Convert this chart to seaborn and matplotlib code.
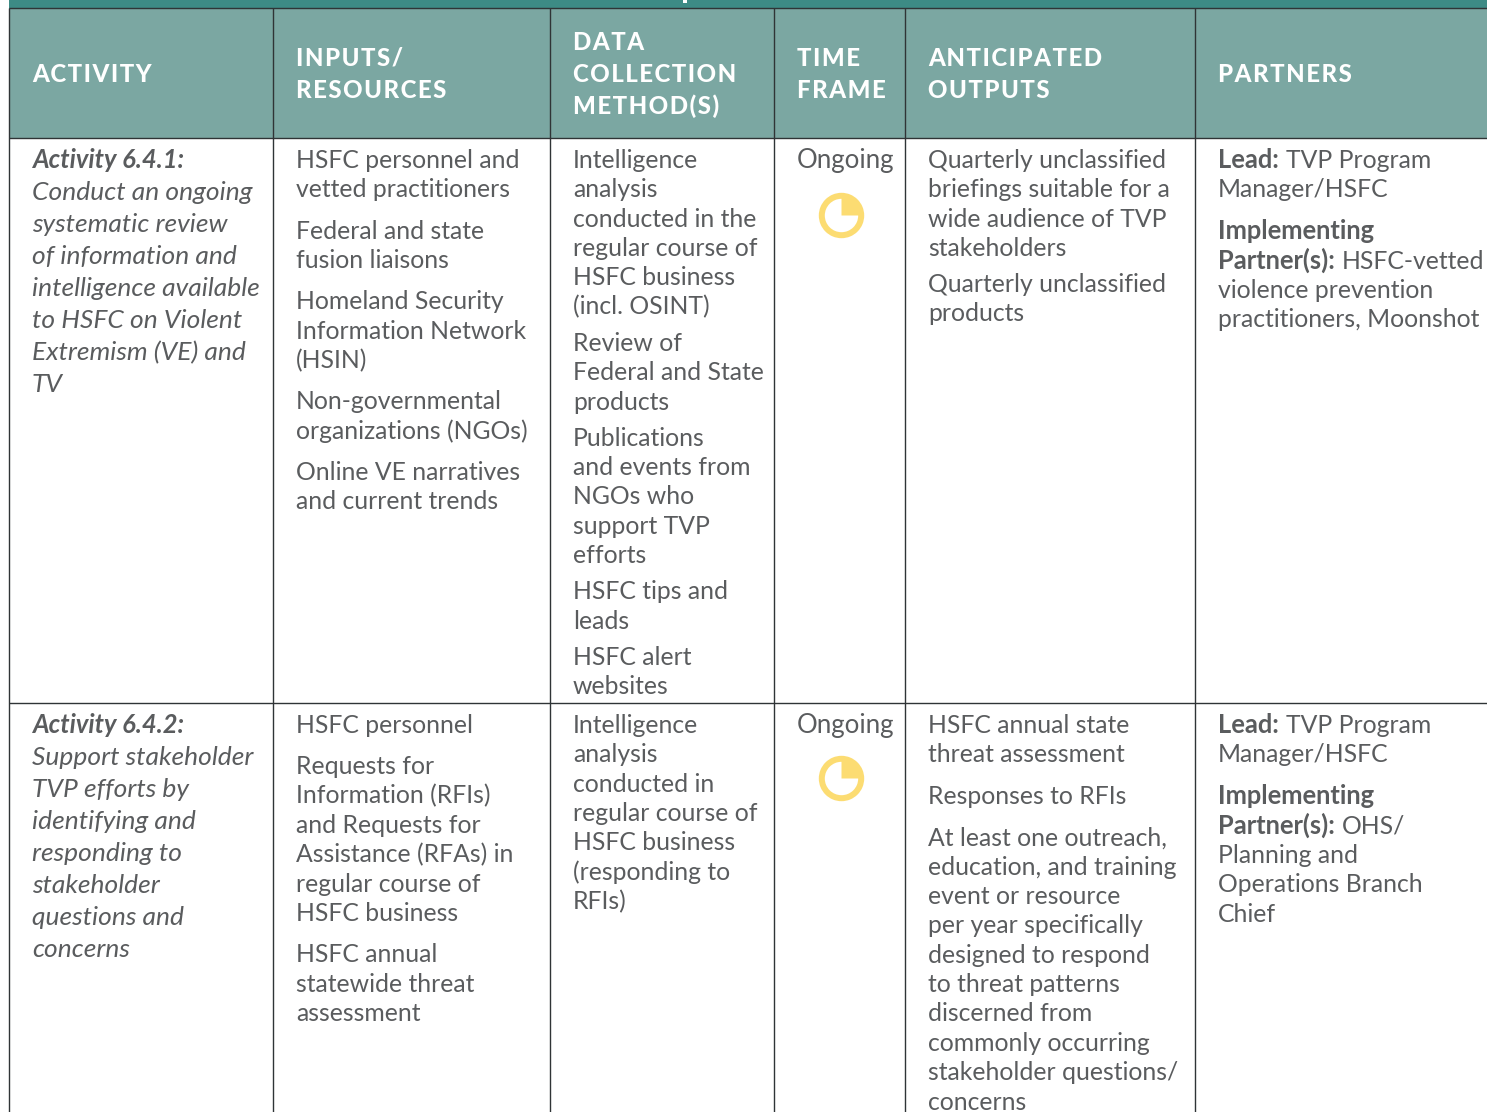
import matplotlib
matplotlib.use("Agg")
import matplotlib.pyplot as plt
from matplotlib.patches import Rectangle, Wedge
import seaborn as sns

headers = [
    ["ACTIVITY"],
    ["INPUTS/", "RESOURCES"],
    ["DATA", "COLLECTION", "METHOD(S)"],
    ["TIME", "FRAME"],
    ["ANTICIPATED", "OUTPUTS"],
    ["PARTNERS"],
]

activity_1 = ["Conduct an ongoing", "systematic review", "of information and", "intelligence available",
              "to HSFC on Violent", "Extremism (VE) and", "TV"]
activity_2 = ["Support stakeholder", "TVP efforts by", "identifying and", "responding to",
              "stakeholder", "questions and", "concerns"]

inputs_1 = [["HSFC personnel and", "vetted practitioners"],
            ["Federal and state", "fusion liaisons"],
            ["Homeland Security", "Information Network", "(HSIN)"],
            ["Non-governmental", "organizations (NGOs)"],
            ["Online VE narratives", "and current trends"]]
inputs_2 = [["HSFC personnel"],
            ["Requests for", "Information (RFIs)", "and Requests for", "Assistance (RFAs) in",
             "regular course of", "HSFC business"],
            ["HSFC annual", "statewide threat", "assessment"]]

methods_1 = [["Intelligence", "analysis", "conducted in the", "regular course of", "HSFC business", "(incl. OSINT)"],
             ["Review of", "Federal and State", "products"],
             ["Publications", "and events from", "NGOs who", "support TVP", "efforts"],
             ["HSFC tips and", "leads"],
             ["HSFC alert", "websites"]]
methods_2 = [["Intelligence", "analysis", "conducted in", "regular course of", "HSFC business",
              "(responding to", "RFIs)"]]

outputs_1 = [["Quarterly unclassified", "briefings suitable for a", "wide audience of TVP", "stakeholders"],
             ["Quarterly unclassified", "products"]]
outputs_2 = [["HSFC annual state", "threat assessment"],
             ["Responses to RFIs"],
             ["At least one outreach,", "education, and training", "event or resource",
              "per year specifically", "designed to respond", "to threat patterns",
              "discerned from", "commonly occurring", "stakeholder questions/", "concerns"]]

partners_1 = [("Lead:", ["TVP Program", "Manager/HSFC"]),
              ("Implementing", ["Partner(s):|HSFC-vetted", "violence prevention", "practitioners, Moonshot"])]
partners_2 = [("Lead:", ["TVP Program", "Manager/HSFC"]),
              ("Implementing", ["Partner(s):|OHS/", "Planning and", "Operations Branch", "Chief"])]

time_frame = "Ongoing"

# layout
col_x = [9.0, 273.0, 550.0, 774.0, 905.0, 1195.0]
row_y = [138.0, 703.0]
PAD = 23
STEP = 29.35
TEXT = "#5a5c5e"
BODY = 17.8
BOLD = 18.4
ITALIC = 19.0

sns.set_theme(style="white")
plt.rcParams["font.family"] = ["Lato", "DejaVu Sans"]

fig, ax = plt.subplots(figsize=(14.87, 11.12), dpi=100)
fig.subplots_adjust(0, 0, 1, 1)
ax.set_xlim(0, 1487)
ax.set_ylim(1112, 0)
ax.set_axis_off()
renderer = fig.canvas.get_renderer()

ax.add_patch(Rectangle((9, 0), 1478, 8.5, color="#3d8b85", lw=0))
ax.add_patch(Rectangle((9, 8.5), 1478, 130, color="#7ba7a2", lw=0))
# tail of the cropped title letter at the top edge
ax.add_patch(Rectangle((683, 0), 4, 2.5, color="white", lw=0))

for x in col_x:
    ax.plot([x, x], [8, 1112], color="#2f3436", lw=1.0, solid_capstyle="butt")
for y in [8.0] + row_y:
    ax.plot([9, 1487], [y, y], color="#2f3436", lw=1.0, solid_capstyle="butt")


def spaced(s):
    return "\u200a".join(s)


for x, lines in zip(col_x, headers):
    y0 = 82 - (len(lines) - 1) * 16
    for i, line in enumerate(lines):
        ax.text(x + PAD, y0 + i * 32, spaced(line), color="white", fontsize=17.3, fontweight=900, va="baseline")


def draw_paragraphs(x, y, paragraphs, gap):
    for para in paragraphs:
        for line in para:
            ax.text(x, y, line, color=TEXT, fontsize=BODY, va="baseline")
            y += STEP
        y += gap - STEP


def draw_partners(x, y, blocks):
    for label, lines in blocks:
        if label == "Lead:":
            t = ax.text(x, y, label, color=TEXT, fontsize=BOLD, fontweight="bold", va="baseline")
            w = t.get_window_extent(renderer).width
            ax.text(x + w + 7, y, lines[0], color=TEXT, fontsize=BODY, va="baseline")
            rest = lines[1:]
        else:
            ax.text(x, y, label, color=TEXT, fontsize=BOLD, fontweight="bold", va="baseline")
            y += STEP
            bold, tail = lines[0].split("|")
            t = ax.text(x, y, bold, color=TEXT, fontsize=BOLD, fontweight="bold", va="baseline")
            w = t.get_window_extent(renderer).width
            ax.text(x + w + 7, y, tail, color=TEXT, fontsize=BODY, va="baseline")
            rest = lines[1:]
        y += STEP
        for line in rest:
            ax.text(x, y, line, color=TEXT, fontsize=BODY, va="baseline")
            y += STEP
        y += 42 - STEP


def draw_activity(x, y, title, lines):
    ax.text(x, y, title, color=TEXT, fontsize=BOLD, fontweight="bold", style="italic", va="baseline")
    for i, line in enumerate(lines):
        ax.text(x, y + 32 * (i + 1), line, color=TEXT, fontsize=ITALIC, style="italic", va="baseline")


def draw_icon(cx, cy):
    ax.add_patch(Wedge((cx, cy), 22.7, 0, 360, width=6, color="#fcdc72", lw=0))
    # y axis is inverted, so the upper right quarter runs from 270 to 360
    ax.add_patch(Wedge((cx, cy), 20, 270, 360, color="#fcdc72", lw=0))


rows = [
    (168, "Activity 6.4.1:", activity_1, inputs_1, methods_1, outputs_1, partners_1, 36.1, 36, 215.5),
    (733, "Activity 6.4.2:", activity_2, inputs_2, methods_2, outputs_2, partners_2, 41, 41.5, 778.5),
]
for y, title, act, inp, met, out, par, met_gap, out_gap, icon_y in rows:
    draw_activity(col_x[0] + PAD, y, title, act)
    draw_paragraphs(col_x[1] + PAD, y, inp, 41.3)
    draw_paragraphs(col_x[2] + PAD, y, met, met_gap)
    ax.text(col_x[3] + PAD, y, time_frame, color=TEXT, fontsize=BODY + 0.8, va="baseline")
    draw_icon(841.5, icon_y)
    draw_paragraphs(col_x[4] + PAD, y, out, out_gap)
    draw_partners(col_x[5] + PAD, y, par)

sns.despine(ax=ax, left=True, bottom=True)
fig.savefig("out.png", dpi=100, facecolor="white")
